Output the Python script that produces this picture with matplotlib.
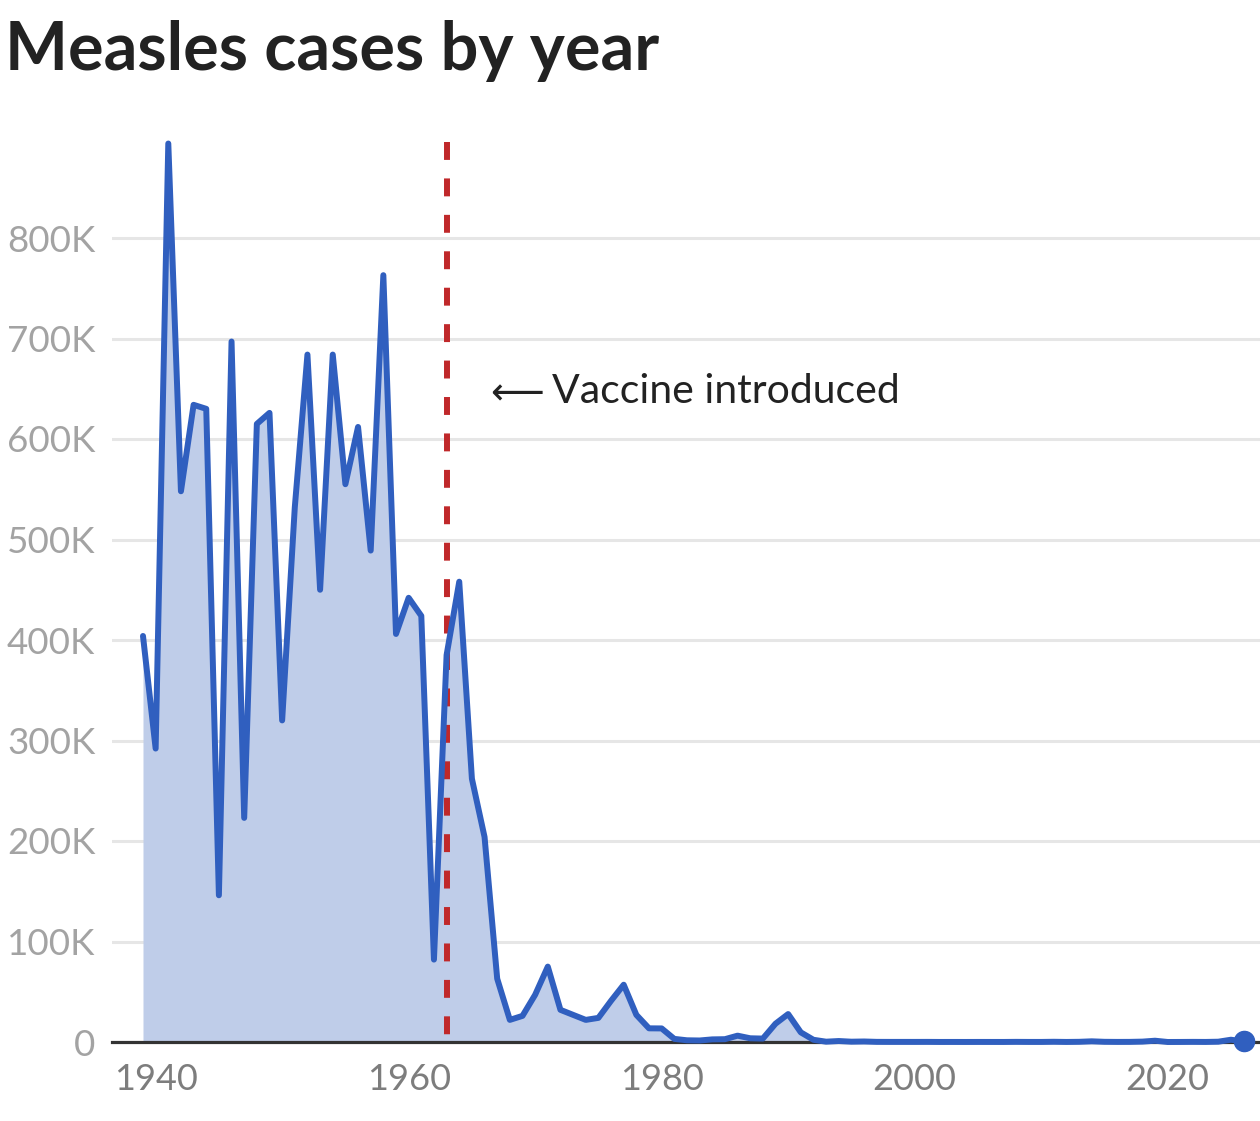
import matplotlib
matplotlib.use("Agg")
import matplotlib.pyplot as plt
from matplotlib.ticker import FuncFormatter

plt.rcParams['font.family'] = ['Lato', 'DejaVu Sans']

years = list(range(1939, 2027))
cases = [
    404000, 292000, 894000, 548000, 634000, 630000, 146000, 697000, 223000, 615000,  # 1939-1948
    626000, 320000, 532000, 684000, 450000, 684000, 555000, 612000, 489000, 763000,  # 1949-1958
    406000, 442000, 424000, 82000, 385000, 458000, 262000, 204000, 63000, 22000,     # 1959-1968
    26000, 47000, 75000, 32000, 27000, 22000, 24000, 41000, 57000, 27000,            # 1969-1978
    13600, 13500, 3100, 1700, 1500, 2600, 2800, 6300, 3700, 3400,                    # 1979-1988
    18200, 27800, 9600, 2200, 312, 963, 309, 508, 138, 100,                           # 1989-1998
    100, 86, 116, 44, 56, 37, 66, 55, 43, 140,                                        # 1999-2008
    71, 63, 220, 55, 187, 667, 188, 86, 120, 375,                                     # 2009-2018
    1274, 13, 49, 121, 59, 285, 2255, 600,                                            # 2019-2026
]
vaccine_year = 1963
yticks = [0, 100000, 200000, 300000, 400000, 500000, 600000, 700000, 800000]
xticks = [1940, 1960, 1980, 2000, 2020]

LINE = '#305fbf'
FILL = '#bfcde9'
RED = '#c0282a'

fig = plt.figure(figsize=(12.6, 11.21), dpi=100)
ax = fig.add_axes([112 / 1260, 79 / 1121, 1148 / 1260, 904.5 / 1121])

ax.fill_between(years, cases, 0, color=FILL, lw=0, zorder=1)
ax.plot(years, cases, color=LINE, lw=4.3, solid_joinstyle='round',
        solid_capstyle='round', zorder=4, clip_on=False)
ax.plot(years[-1], cases[-1], 'o', color=LINE, ms=14.5, zorder=5, clip_on=False)

# dashed marker for the vaccine year, drawn top-down so the dash pattern starts at the top
ax.plot([vaccine_year, vaccine_year], [895500, 0], color=RED, lw=4.3,
        dashes=(3, 3.1), solid_capstyle='butt', dash_capstyle='butt', zorder=3)
ax.text(vaccine_year + 3.45, 644000, '\u27f5', fontsize=27, color='#222222',
        va='center', ha='left', family='DejaVu Sans')
ax.text(vaccine_year + 8.35, 636000, 'Vaccine introduced', fontsize=29.5,
        color='#222222', va='baseline', ha='left')

ax.set_xlim(1936.55, 2027.3)
ax.set_ylim(0, 900000)
ax.set_yticks(yticks)
ax.yaxis.set_major_formatter(FuncFormatter(lambda v, p: '0' if v == 0 else f'{int(v / 1000)}K'))
ax.set_xticks(xticks)
ax.grid(axis='y', color='#e6e6e6', lw=2.2, zorder=0)
ax.set_axisbelow(True)

for s in ['top', 'right', 'left']:
    ax.spines[s].set_visible(False)
ax.spines['bottom'].set_color('#333333')
ax.spines['bottom'].set_linewidth(2.3)
ax.spines['bottom'].set_zorder(3.5)

ax.tick_params(axis='y', length=0, pad=12, labelsize=26.5, labelcolor='#a3a3a3')
ax.tick_params(axis='x', length=0, pad=15, labelsize=26, labelcolor='#7d7d7d')

fig.text(5 / 1260, 1 - 70 / 1121, 'Measles cases by year', fontsize=48,
         fontweight='bold', color='#222222', ha='left', va='baseline')

fig.savefig('out.png', dpi=100)
